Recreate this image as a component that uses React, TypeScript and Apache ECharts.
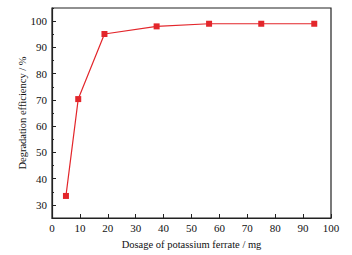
import React, { useEffect, useRef } from "react";
import * as echarts from "echarts";

const dosage = [5, 9.4, 18.8, 37.5, 56.3, 75, 94];
const efficiency = [33.4, 70.3, 95.1, 98, 99, 99, 99];
const yTicks = [30, 40, 50, 60, 70, 80, 90, 100];
const xName = "Dosage of potassium ferrate / mg";
const yName = "Degradation efficiency / %";

export default function App() {
  const ref = useRef<HTMLDivElement>(null);
  useEffect(() => {
    const chart = echarts.init(ref.current!, null, { renderer: "svg" });
    const font = "Liberation Serif";
    const axisCol = "#222";
    chart.setOption({
      animation: false,
      backgroundColor: "#fff",
      textStyle: { fontFamily: font },
      grid: {
        left: 52,
        top: 8,
        right: 21,
        bottom: 34,
        show: true,
        borderColor: axisCol,
        borderWidth: 1.2,
      },
      xAxis: {
        type: "value",
        min: 0,
        max: 100,
        interval: 10,
        name: xName,
        nameLocation: "middle",
        nameGap: 21,
        nameMoveOverlap: false,
        nameTextStyle: { fontFamily: font, fontSize: 10.5, color: "#111" },
        axisLine: { show: true, lineStyle: { color: axisCol, width: 1.2 } },
        axisTick: { show: true, inside: true, length: 4, lineStyle: { color: axisCol } },
        axisLabel: { fontFamily: font, fontSize: 11, color: "#111", margin: 4 },
        splitLine: { show: false },
      },
      yAxis: [
        {
          type: "value",
          min: 25,
          max: 105,
          name: yName,
          nameLocation: "middle",
          nameGap: 24,
          nameMoveOverlap: false,
          nameTextStyle: { fontFamily: font, fontSize: 10.5, color: "#111" },
          axisLine: { show: true, lineStyle: { color: axisCol, width: 1.2 } },
          axisTick: {
            show: true,
            inside: true,
            length: 4,
            customValues: yTicks,
            lineStyle: { color: axisCol },
          },
          axisLabel: {
            fontFamily: font,
            fontSize: 11,
            color: "#111",
            margin: 5,
            customValues: yTicks,
          },
          splitLine: { show: false },
        },
        {
          type: "value",
          min: 25,
          max: 105,
          interval: 5,
          position: "left",
          axisLine: { show: false },
          axisTick: { show: true, inside: true, length: 2, lineStyle: { color: axisCol } },
          axisLabel: { show: false },
          splitLine: { show: false },
        },
      ],
      series: [
        {
          type: "line",
          data: dosage.map((d, i) => [d, efficiency[i]]),
          symbol: "rect",
          symbolSize: 6,
          lineStyle: { color: "#e3262b", width: 1.2 },
          itemStyle: { color: "#e3262b" },
        },
      ],
    });
    return () => chart.dispose();
  }, []);
  return <div ref={ref} style={{ width: 352, height: 255 }} />;
}

const _style = document.createElement("style");
_style.textContent = "body{margin:0}";
document.head.appendChild(_style);
